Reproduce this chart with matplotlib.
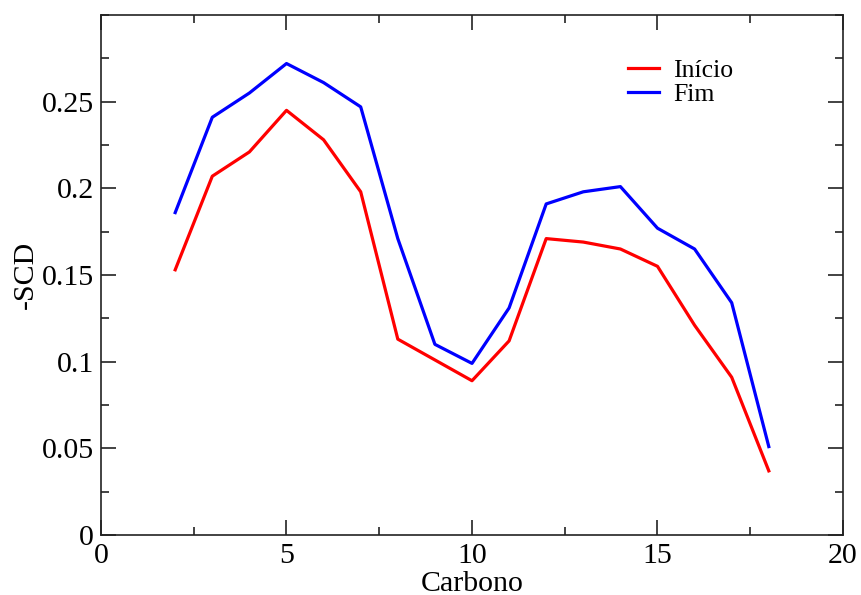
import matplotlib
matplotlib.use("Agg")
import matplotlib.pyplot as plt
from matplotlib.ticker import MultipleLocator

carbono = [2, 3, 4, 5, 6, 7, 8, 9, 10, 11, 12, 13, 14, 15, 16, 17, 18]
inicio = [0.153, 0.207, 0.221, 0.245, 0.228, 0.198, 0.113, 0.101, 0.089, 0.112,
          0.171, 0.169, 0.165, 0.155, 0.121, 0.091, 0.037]
fim = [0.186, 0.241, 0.255, 0.272, 0.261, 0.247, 0.171, 0.110, 0.099, 0.131,
       0.191, 0.198, 0.201, 0.177, 0.165, 0.134, 0.051]
x_ticks = [0, 5, 10, 15, 20]
y_ticks = [0, 0.05, 0.1, 0.15, 0.2, 0.25]
y_tick_labels = ["0", "0.05", "0.1", "0.15", "0.2", "0.25"]

plt.rcParams['font.family'] = ['Liberation Serif', 'DejaVu Serif']

fig = plt.figure(figsize=(8.62, 5.95), dpi=100)
ax = fig.add_axes([101/862, 60/595, 742/862, 520/595])

ax.plot(carbono, inicio, color='#ff0000', lw=2.3, label='Início')
ax.plot(carbono, fim, color='#0000ff', lw=2.3, label='Fim')

ax.set_xlim(0, 20)
ax.set_ylim(0, 0.3)
ax.set_xticks(x_ticks)
ax.set_yticks(y_ticks)
ax.set_yticklabels(y_tick_labels)
ax.xaxis.set_minor_locator(MultipleLocator(2.5))
ax.yaxis.set_minor_locator(MultipleLocator(0.025))

for s in ax.spines.values():
    s.set_linewidth(1.2)
    s.set_color('#222222')

ax.tick_params(which='both', direction='in', top=True, right=True, color='#222222', width=1.2)
ax.tick_params(which='major', length=11, labelsize=21.5)
ax.tick_params(axis='x', which='major', pad=6)
ax.tick_params(axis='y', which='major', pad=5)
ax.tick_params(which='minor', length=5.5)

ax.set_xlabel('Carbono', fontsize=21.5, labelpad=1)
ax.set_ylabel('-SCD', fontsize=21.5, labelpad=2)

leg = ax.legend(frameon=False, fontsize=18.5, handlelength=1.2, handletextpad=0.55,
                labelspacing=0.05, borderpad=0, borderaxespad=0,
                loc='upper left', bbox_to_anchor=(628/862, 1 - 59/595),
                bbox_transform=fig.transFigure)

fig.savefig('out.png', dpi=100)
